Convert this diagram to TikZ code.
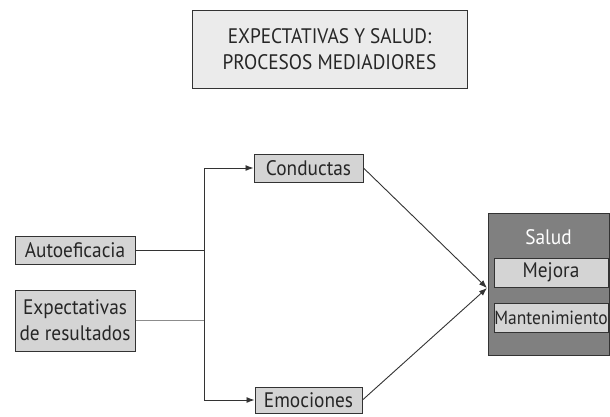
\documentclass[tikz,border=0pt]{standalone}
\usepackage{fontspec}
\setmainfont{PT Sans}[FakeStretch=0.92]
\usetikzlibrary{positioning,arrows.meta}
\definecolor{boxgray}{HTML}{D4D4D4}
\definecolor{titlegray}{HTML}{EBEBEB}
\definecolor{darkgray}{HTML}{808080}
\definecolor{linegray}{HTML}{333333}
\begin{document}
\begin{tikzpicture}[x=1pt, y=-1pt,
      every node/.style={draw=linegray, line width=1pt, inner sep=0pt,
        font=\fontsize{21}{26}\selectfont, text=black!85, align=center},
      box/.style={fill=boxgray, minimum height=28pt},
      link/.style={draw=linegray, line width=0.9pt},
      >={Latex[length=8pt,width=6pt]},
    ]
    \useasboundingbox (0,0) rectangle (610,416);
    \node[fill=titlegray, minimum width=275pt, minimum height=78pt] (title)
      at (329.5,49) {EXPECTATIVAS Y SALUD:\\PROCESOS MEDIADIORES};
    % predictores
    \node[box, minimum width=120pt] (auto) at (75,250) {Autoeficacia};
    \node[box, minimum width=120pt, minimum height=61pt] (expec) at (75,320.5)
      {Expectativas\\de resultados};
    % mediadores
    \node[box, minimum width=109pt] (cond) at (308.5,168) {Conductas};
    \node[box, minimum width=107pt, minimum height=26pt] (emo) at (308.5,400) {Emociones};
    % resultado
    \node[fill=darkgray, minimum width=121pt, minimum height=142pt] (salud) at (548.5,284) {};
    \node[draw=none, text=white] (saludlbl) at (548.5,237) {Salud};
    \node[box, minimum width=114pt, minimum height=29pt] (mejora) at (551,272.5) {Mejora};
    \node[box, minimum width=114pt, minimum height=29pt,
      font=\fontsize{19}{24}\selectfont] (mant) at (551,317.5) {Mantenimiento};
    \coordinate (top) at (204,168);
    \coordinate (bot) at (204,400);
    \coordinate (tip) at (487,288);
    \draw[link] (auto.east) -- (auto.east -| top);
    \draw[link, draw=black!45] (expec.east) -- (expec.east -| top);
    \draw[link, ->] (top) -- (cond.west);
    \draw[link, ->] (bot) -- (emo.west);
    \draw[link] (top) -- (bot);
    \draw[link, ->] (cond.east) -- (tip);
    \draw[link, ->] (emo.east) -- (tip);
\end{tikzpicture}
\end{document}
